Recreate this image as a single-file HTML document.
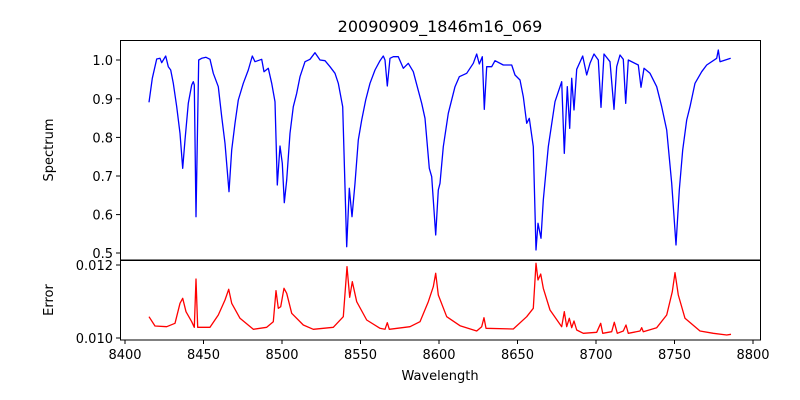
<!DOCTYPE html>
<html><head><meta charset="utf-8"><style>body{margin:0;background:#fff}svg{display:block}text{font-family:"DejaVu Sans","Liberation Sans",sans-serif;fill:#000}</style></head><body>
<svg width="800" height="400" viewBox="0 0 800 400" xmlns="http://www.w3.org/2000/svg">
<rect width="800" height="400" fill="#fff"/>
<text x="440" y="32" font-size="16" text-anchor="middle">20090909_1846m16_069</text>
<polyline fill="none" stroke="#0000ff" stroke-width="1.3" stroke-linejoin="round" points="149,102.3 152.3,78.3 156.7,59 160,58.3 161.7,62.7 165.7,56 168.3,66.7 170.7,70 173.3,83.3 176.7,106.7 180,133.3 182.7,168.3 185,140 188.3,103.3 191.7,85 193.3,81.7 194.3,85 196,216.7 198.7,60 201.7,58.3 206,57.3 210,59.3 213.3,73.3 218.3,86.7 221.7,116.7 225,143.3 229,191.7 231.7,150 235,123.3 238.3,100 243.3,83.3 248.3,70 252.3,56 255,61.7 261.7,59.3 264,71.7 268.3,68.3 271.7,83.3 275,101.7 277.3,185 280,146 282.3,163.3 284.3,202.7 286.7,180 290,133.3 293.3,106.7 296.7,93.3 300,76.7 305,61.7 310,59.3 315,52.7 320,60 325,60.7 330,66.7 335,73.3 338.3,83.3 342.7,106.7 346.7,246.7 349.3,188.3 352,216.7 355,183.3 358.3,140 361.7,120 365.7,100 370,83.3 375,70 380,60.7 383.3,56 385,60 387.3,86 390,58.3 393.3,56.7 398.3,56.7 403.3,68.3 408.3,63.3 413.3,71.7 417.7,88.3 421.7,103.3 425,118.3 429.3,168.3 431.7,176.7 435.7,235 438.3,190 440,183.3 443.3,146.7 448.3,113.3 455,86.7 459.3,76.7 466.7,73.3 473.3,63.3 476.7,54 479.3,64 482.3,56.7 484.3,109.3 486.7,66.7 491.7,66.7 495,60.7 503.3,65 511.7,65 515,75 520,80 523.3,96.7 526.7,123.3 529.3,118.3 533.3,146.7 536,250 538,223.3 541,238.3 543.3,200 548.3,146.7 555,101.7 561.7,81.7 564.3,153.3 567.3,86.7 569.7,128.3 571.7,78.3 574,110 576.7,69.3 582.7,56 586.7,75 590,63.3 594,54 598.3,60 601,107.3 604,54 610,61.7 614,109.3 616.7,66.7 620,55 623.3,59.3 625.7,103.3 628.3,60 638.3,65 641,87.3 644,68.3 650,73.3 656.7,86.7 661.7,106.7 666.7,130 671.7,183.3 676,245 679.3,190 682.7,150 686.7,120 690,106.7 695,83.3 701.7,71.7 706.7,65 716.7,58.3 718.3,50 720,61.7 730.7,58.3"/>
<polyline fill="none" stroke="#ff0000" stroke-width="1.3" stroke-linejoin="round" points="149,316.7 155,326 166.7,326.7 175,323.3 180,303.3 182.7,298.3 186,311.7 191.7,321.7 194.3,327.3 196,279 197.7,327.3 210,327.3 218.3,315 225,300 228.7,289.3 231.7,303.3 240,318.3 253.3,329.3 266.7,327.3 273.3,321.7 276,290.7 278.3,308.3 280.7,306.7 284,288.3 286.7,293.3 291.7,313.3 303.3,325 313.3,329.3 333.3,327.3 343.3,316.7 347,266.7 349.7,297.3 352.3,281.7 356.7,301.7 366.7,320 380,328.3 385,329.3 387.3,322.7 389.3,329.3 410,326.7 420,321.7 428.3,301.7 433.3,286.7 435.7,273.3 438.3,295 446.7,316.7 460,325.7 476.7,331 481.7,326.7 484,317.7 486,328.3 513.3,329 526.7,316.7 533.3,308.3 536,263.3 538,280 540.7,274 543.3,288.3 550,310 561.7,326.7 564.3,311.7 566.7,326.7 569.3,318.3 571.7,327.7 574,321 576.7,330 583.3,333.3 596.7,332.3 600.7,323.3 602.7,333.3 611.7,331.7 614.3,322.3 617.3,333.3 623.3,331 626,325 628.3,333.3 640,331 641.7,327.7 643.3,331.7 656.7,327.7 666.7,315 672.3,291.7 675,272.7 678.3,295 685,318.3 700,331 713.3,333.3 726.7,335 731,334.3"/>
<rect x="120.5" y="40.5" width="640" height="219.5" fill="none" stroke="#000" stroke-width="1"/>
<rect x="120.5" y="260.5" width="640" height="79.5" fill="none" stroke="#000" stroke-width="1"/>
<g stroke="#000" stroke-width="1">
<line x1="116" y1="253" x2="120" y2="253"/><line x1="116" y1="214.6" x2="120" y2="214.6"/><line x1="116" y1="176" x2="120" y2="176"/><line x1="116" y1="137.4" x2="120" y2="137.4"/><line x1="116" y1="98.8" x2="120" y2="98.8"/><line x1="116" y1="60" x2="120" y2="60"/>
<line x1="116" y1="265" x2="120" y2="265"/><line x1="116" y1="338" x2="120" y2="338"/>
<line x1="125" y1="340" x2="125" y2="344"/><line x1="203.5" y1="340" x2="203.5" y2="344"/><line x1="282" y1="340" x2="282" y2="344"/><line x1="360.5" y1="340" x2="360.5" y2="344"/><line x1="439" y1="340" x2="439" y2="344"/><line x1="517.5" y1="340" x2="517.5" y2="344"/><line x1="596" y1="340" x2="596" y2="344"/><line x1="674.5" y1="340" x2="674.5" y2="344"/><line x1="753" y1="340" x2="753" y2="344"/>
</g>
<g font-size="13" text-anchor="end">
<text x="113" y="258">0.5</text><text x="113" y="219.6">0.6</text><text x="113" y="181">0.7</text><text x="113" y="142.4">0.8</text><text x="113" y="103.8">0.9</text><text x="113" y="65">1.0</text>
<text x="113" y="270">0.012</text><text x="113" y="343">0.010</text>
</g>
<g font-size="13" text-anchor="middle">
<text x="125" y="359">8400</text><text x="203.5" y="359">8450</text><text x="282" y="359">8500</text><text x="360.5" y="359">8550</text><text x="439" y="359">8600</text><text x="517.5" y="359">8650</text><text x="596" y="359">8700</text><text x="674.5" y="359">8750</text><text x="753" y="359">8800</text>
<text x="440" y="380">Wavelength</text>
<text transform="translate(53,150) rotate(-90)">Spectrum</text>
<text transform="translate(53,300) rotate(-90)">Error</text>
</g>
</svg>
</body></html>
